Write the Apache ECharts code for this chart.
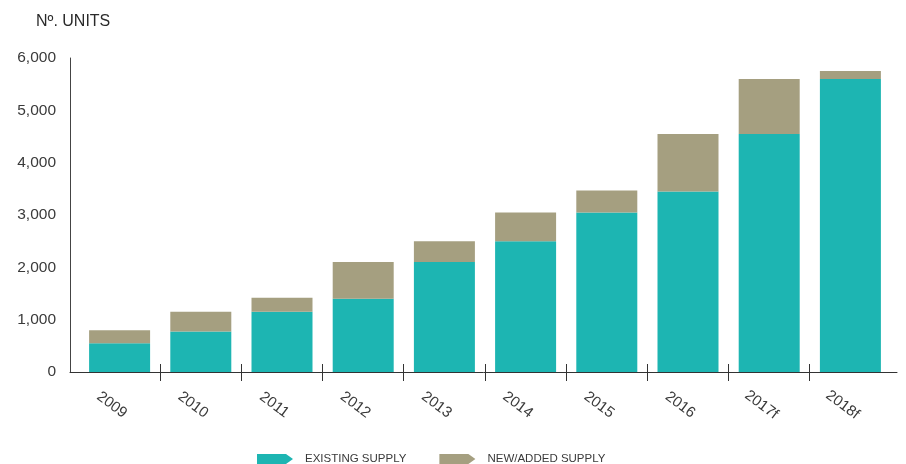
<!DOCTYPE html>
<html>
<head>
<meta charset="utf-8">
<script src="https://cdn.jsdelivr.net/npm/echarts@6/dist/echarts.min.js"></script>
<style>
html,body{margin:0;padding:0;background:#fff;}
#chart{width:906px;height:464px;}
</style>
</head>
<body>
<div id="chart"></div>
<script>
const categories = ['2009','2010','2011','2012','2013','2014','2015','2016','2017f','2018f'];
const existingSupply = [550, 775, 1150, 1400, 2100, 2500, 3050, 3450, 4550, 5600];
const newSupply = [250, 375, 270, 700, 400, 550, 420, 1100, 1050, 150];
const yTicks = [0, 1000, 2000, 3000, 4000, 5000, 6000];
const seriesNames = ['EXISTING SUPPLY', 'NEW/ADDED SUPPLY'];

const FONT = '"Liberation Sans", Arial, Helvetica, sans-serif';
const TEXT = '#3a3a3a';
const idx = categories.map((c, i) => i);
const labelPos = idx.map(i => i - 0.095);
const tickPos = idx.slice(0, -1).map(i => i + 0.5);
const xMin = -0.61, xMax = 9.575;
const yMin = yTicks[0], yMax = yTicks[yTicks.length - 1], yStep = yTicks[1] - yTicks[0];

const chart = echarts.init(document.getElementById('chart'), null, {renderer: 'canvas'});
const arrow = 'path://M0,0 L29,0 L36,5 L29,10 L0,10 Z';

chart.setOption({
  animation: false,
  title: {
    text: 'Nº. UNITS', left: 31, top: 9,
    textStyle: {fontFamily: FONT, fontSize: 16, fontWeight: 'normal', color: '#2a2a2a'}
  },
  legend: {
    left: 257, top: 453, padding: 0, itemWidth: 36, itemHeight: 10, itemGap: 33,
    data: [{name: seriesNames[0], icon: arrow}, {name: seriesNames[1], icon: arrow}],
    textStyle: {fontFamily: FONT, fontSize: 11.5, color: TEXT, padding: [0, 0, 0, 7]}
  },
  grid: [
    {left: 79, right: 15, top: 58, bottom: 92, containLabel: false},
    {left: 70, right: 9, top: 58, bottom: 92, containLabel: false}
  ],
  xAxis: [{
    gridIndex: 0, type: 'category', data: categories, boundaryGap: true,
    axisLine: {show: false}, axisTick: {show: false}, axisLabel: {show: false}, splitLine: {show: false}
  }, {
    gridIndex: 1, type: 'value', min: xMin, max: xMax,
    splitLine: {show: false},
    axisLine: {show: true, onZero: false, lineStyle: {color: '#333', width: 1}},
    axisTick: {show: true, inside: false, length: 9, customValues: tickPos, lineStyle: {color: '#333'}},
    axisLabel: {
      show: true, customValues: labelPos, rotate: -37, align: 'center', verticalAlign: 'middle', margin: 33,
      fontFamily: FONT, fontSize: 15, color: TEXT,
      formatter: v => categories[Math.round(v + 0.095)]
    }
  }, {
    gridIndex: 1, type: 'value', min: xMin, max: xMax, position: 'bottom',
    splitLine: {show: false},
    axisLine: {show: false},
    axisLabel: {show: false},
    axisTick: {show: true, inside: true, length: 8, customValues: tickPos, lineStyle: {color: '#333'}}
  }],
  yAxis: [{
    gridIndex: 0, type: 'value', min: yMin, max: yMax, interval: yStep, show: false
  }, {
    gridIndex: 1, type: 'value', min: yMin, max: yMax, interval: yStep,
    splitLine: {show: false},
    axisLine: {show: true, onZero: false, lineStyle: {color: '#444', width: 1}},
    axisTick: {show: false},
    axisLabel: {
      margin: 14, fontFamily: FONT, fontSize: 15.5, color: TEXT,
      formatter: v => v.toLocaleString('en-US')
    }
  }],
  series: [{
    name: seriesNames[0], type: 'bar', stack: 'total', barWidth: 61, xAxisIndex: 0, yAxisIndex: 0,
    itemStyle: {color: '#1DB5B2'},
    data: existingSupply
  }, {
    name: seriesNames[1], type: 'bar', stack: 'total', barWidth: 61, xAxisIndex: 0, yAxisIndex: 0,
    itemStyle: {color: '#A59F80'},
    data: newSupply
  }]
});
</script>
</body>
</html>
